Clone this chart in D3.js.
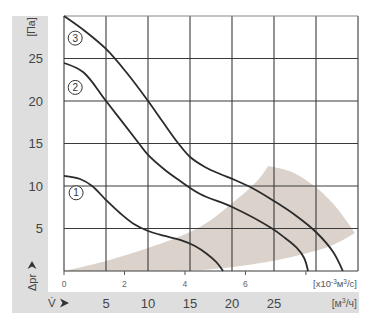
<!DOCTYPE html>
<html>
<head>
<meta charset="utf-8">
<script src="https://cdn.jsdelivr.net/npm/d3@7"></script>
<style>
  body { margin: 0; background: #fff; }
  svg { display: block; font-family: "Liberation Sans", Arial, sans-serif; }
</style>
</head>
<body>
<div id="chart"></div>
<script>
// fan curves: [flow x10^-3 m3/s, static pressure Pa]
const curve1 = [[0, 11.18], [0.53, 10.82], [0.93, 10.0], [1.39, 8.35], [1.85, 6.82], [2.31, 5.53],
    [2.78, 4.71], [3.34, 4.12], [3.84, 3.65], [4.33, 2.94], [4.73, 2.0], [5.03, 1.06], [5.26, 0]];
const curve2 = [[0, 24.47], [0.63, 23.41], [1.39, 20.0], [2.48, 15.0], [2.78, 13.65], [3.34, 11.88],
    [3.84, 10.59], [4.5, 9.06], [5.56, 7.53], [6.88, 5.0], [7.31, 3.88], [7.7, 2.71], [7.94, 1.53], [8.07, 0]];
const curve3 = [[0, 30], [0.69, 28.24], [1.39, 26.12], [2.08, 23.29], [2.78, 20.0], [3.27, 17.53],
    [3.77, 15.06], [4.17, 13.41], [4.66, 12.24], [5.16, 11.41], [5.65, 10.71], [6.22, 9.76],
    [6.94, 8.24], [7.64, 6.59], [8.33, 4.59], [8.9, 2.24], [9.22, 0]];
const curves = [curve1, curve2, curve3];
const curveNames = ["1", "2", "3"];

// shaded working range
const shadeUpper = [[0, 0], [1.39, 1.18], [2.78, 2.71], [4.17, 4.59], [4.86, 6.0], [5.56, 8.0],
    [6.15, 9.76], [6.55, 11.29], [6.75, 12.35]];
const shadeArc = [[6.75, 12.35], [7.57, 11.6], [8.36, 9.76], [9.02, 7.41], [9.62, 4.47]];
const shadeLower = [[9.62, 4.47], [8.89, 3.06], [7.8, 1.88], [6.71, 1.06], [5.59, 0.47],
    [4.5, 0.12], [2.2, 0.02], [0, 0]];

const paTicks = [0, 5, 10, 15, 20, 25, 30];
const paLabels = [5, 10, 15, 20, 25];
const m3hGrid = [0, 5, 10, 15, 20, 25, 30, 35];
const m3hLabels = [5, 10, 15, 20, 25];
const m3sTicks = [0, 2, 4, 6, 8];
const m3sLabels = [0, 2, 4, 6];

const width = 375, height = 331;
const plot = {left: 64, right: 358, top: 16, bottom: 271};

const svg = d3.select("#chart").append("svg")
    .attr("width", width)
    .attr("height", height);

let x = d3.scaleLinear().domain([0, 35 / 3.6]).range([plot.left, plot.right]);
let xh = d3.scaleLinear().domain([0, 35]).range([plot.left, plot.right]);
let y = d3.scaleLinear().domain([0, 30]).range([plot.bottom, plot.top]);

// grey frame
svg.append("rect").attr("x", 12).attr("y", 16).attr("width", 347).attr("height", 297).attr("fill", "#dedede");
svg.append("rect").attr("x", 48).attr("y", 16).attr("width", 311).attr("height", 276).attr("fill", "#fff");

// shaded area
let line = d3.line().x(d => x(d[0])).y(d => y(d[1])).curve(d3.curveCatmullRom);
let shadePath = line(shadeUpper) + line(shadeArc).replace(/^M/, "L") + line(shadeLower).replace(/^M/, "L") + "Z";
svg.append("path")
    .attr("d", shadePath)
    .attr("fill", "#dbd3cb");

// grid
svg.selectAll(".vgrid").data(m3hGrid).enter().append("line")
    .attr("x1", d => xh(d)).attr("x2", d => xh(d))
    .attr("y1", plot.top).attr("y2", plot.bottom)
    .attr("stroke", "#3a3a3a").attr("stroke-width", 1.1);
svg.selectAll(".hgrid").data(paTicks).enter().append("line")
    .attr("x1", plot.left).attr("x2", plot.right)
    .attr("y1", d => y(d)).attr("y2", d => y(d))
    .attr("stroke", d => d == 30 ? "#888" : "#3a3a3a").attr("stroke-width", 1.1);

// m3/s ticks under the plot
svg.selectAll(".xtick").data(m3sTicks).enter().append("line")
    .attr("x1", d => x(d)).attr("x2", d => x(d))
    .attr("y1", plot.bottom).attr("y2", plot.bottom + 4)
    .attr("stroke", "#555").attr("stroke-width", 1);
svg.selectAll(".xlab").data(m3sLabels).enter().append("text")
    .attr("x", d => x(d)).attr("y", 287)
    .attr("text-anchor", "middle")
    .attr("font-size", 8.5).attr("fill", "#666")
    .text(d => d);
let unitS = svg.append("text")
    .attr("x", 357).attr("y", 287)
    .attr("text-anchor", "end")
    .attr("font-size", 9.5).attr("fill", "#555");
unitS.append("tspan").text("[x10");
unitS.append("tspan").attr("font-size", 6.5).attr("dy", -3.5).text("-3");
unitS.append("tspan").attr("dy", 3.5).text("м");
unitS.append("tspan").attr("font-size", 6.5).attr("dy", -3.5).text("3");
unitS.append("tspan").attr("dy", 3.5).text("/с]");

// fan curves
let curveLine = d3.line().x(d => x(d[0])).y(d => y(d[1])).curve(d3.curveCatmullRom.alpha(0.5));
svg.selectAll(".fan").data(curves).enter().append("path")
    .attr("d", curveLine)
    .attr("fill", "none")
    .attr("stroke", "#2b2b2b")
    .attr("stroke-width", 1.8);

// curve markers
const markerPos = [[0.4, 9.2], [0.37, 21.6], [0.37, 27.4]];
markerPos.forEach((p, i) => {
    svg.append("circle")
        .attr("cx", x(p[0])).attr("cy", y(p[1])).attr("r", 7)
        .attr("fill", "#fff").attr("stroke", "#333").attr("stroke-width", 1);
    svg.append("text")
        .attr("x", x(p[0])).attr("y", y(p[1]) + 3.5)
        .attr("text-anchor", "middle")
        .attr("font-size", 10).attr("fill", "#333")
        .text(curveNames[i]);
});

// y labels
svg.selectAll(".ylab").data(paLabels).enter().append("text")
    .attr("x", 43).attr("y", d => y(d) + 4.5)
    .attr("text-anchor", "end")
    .attr("font-size", 13).attr("fill", "#444")
    .text(d => d);
svg.append("text")
    .attr("transform", "translate(35, 27) rotate(-90)")
    .attr("text-anchor", "middle")
    .attr("font-size", 10.5).attr("fill", "#444")
    .text("[Па]");
svg.append("text")
    .attr("transform", "translate(36, 291) rotate(-90)")
    .attr("text-anchor", "start")
    .attr("font-size", 11).attr("fill", "#444")
    .text("Δpr");
// arrow head pointing up
svg.append("path")
    .attr("d", "M-4.5,0 L0,-8 L4.5,0 L0,-2.5 Z")
    .attr("transform", "translate(32, 269)")
    .attr("fill", "#333");

// m3/h labels in the grey band
svg.append("text")
    .attr("x", 48).attr("y", 307)
    .attr("font-size", 11.5).attr("fill", "#444")
    .text("V\u0307");
svg.append("path")
    .attr("d", "M0,-4.5 L9,0 L0,4.5 L2.5,0 Z")
    .attr("transform", "translate(60, 303)")
    .attr("fill", "#333");
svg.selectAll(".hlab").data(m3hLabels).enter().append("text")
    .attr("x", d => xh(d)).attr("y", 307.5)
    .attr("text-anchor", "middle")
    .attr("font-size", 13).attr("fill", "#444")
    .text(d => d);
let unitH = svg.append("text")
    .attr("x", 357).attr("y", 307)
    .attr("text-anchor", "end")
    .attr("font-size", 10.5).attr("fill", "#555");
unitH.append("tspan").text("[м");
unitH.append("tspan").attr("font-size", 7).attr("dy", -4).text("3");
unitH.append("tspan").attr("dy", 4).text("/ч]");
</script>
</body>
</html>
